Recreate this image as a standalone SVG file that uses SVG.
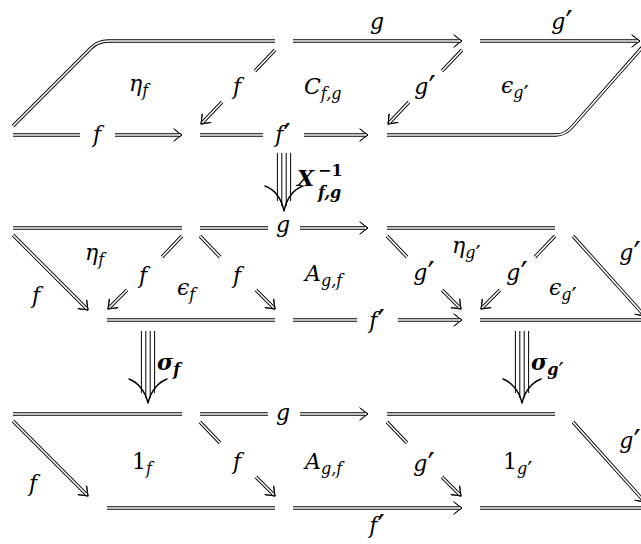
<svg xmlns="http://www.w3.org/2000/svg" xmlns:xlink="http://www.w3.org/1999/xlink" width="641" height="544" viewBox="0 0 641 544">
<style>
.t{font-family:"DejaVu Serif","Liberation Serif",serif;font-style:italic;font-size:22px;fill:#000}
.m{text-anchor:middle}
.s{font-size:16px}
.b{font-weight:bold}
.u{font-style:normal}
.p{font-style:normal;font-weight:normal;font-size:1.45em}
.shaft{stroke:#000;stroke-width:1;fill:none}
.head2{stroke:#000;stroke-width:1.4;fill:none;stroke-linecap:round}
</style>
<defs>
<marker id="h" markerUnits="userSpaceOnUse" orient="auto" refX="-3" refY="0" overflow="visible" markerWidth="1" markerHeight="1">
<path d="M-8,-6 Q-2.5,-1.5 0,0 Q-2.5,1.5 -8,6" fill="none" stroke="#000" stroke-width="0.9" stroke-linecap="round"/>
</marker>
<g id="dbl">
<path d="M13,126 L91,48 Q98,41 108,41 L275,41"/>
<path d="M293,41 L459,41" marker-end="url(#h)"/>
<path d="M480,41 L637,41" marker-end="url(#h)"/>
<path d="M13,135 L80,135 M115,135 L179,135" marker-end="url(#h)"/>
<path d="M200,135 L263,135 M304,135 L365,135" marker-end="url(#h)"/>
<path d="M387,135 L556,135 Q565,135 572,127 L646,43"/>
<path d="M275,50 L255,71 M222,102 L203,122" marker-end="url(#h)"/>
<path d="M462,50 L442,71 M409,102 L390,122" marker-end="url(#h)"/>

<path d="M13,228 L182,228"/>
<path d="M200,228 L268,228 M300,228 L365,228" marker-end="url(#h)"/>
<path d="M387,228 L555,228"/>
<path d="M107,320 L275,320"/>
<path d="M293,320 L357,320 M398,320 L459,320" marker-end="url(#h)"/>
<path d="M480,320 L641,320"/>
<path d="M13,235 L86,308" marker-end="url(#h)"/>
<path d="M182,236 L162,257 M127,290 L110,307" marker-end="url(#h)"/>
<path d="M200,236 L220,257 M256,290 L273,307" marker-end="url(#h)"/>
<path d="M387,236 L407,257 M442,290 L459,307" marker-end="url(#h)"/>
<path d="M555,236 L535,257 M500,290 L483,307" marker-end="url(#h)"/>
<path d="M573,236 L643,314" marker-end="url(#h)"/>

<path d="M13,414 L182,414"/>
<path d="M200,414 L268,414 M300,414 L365,414" marker-end="url(#h)"/>
<path d="M387,414 L555,414"/>
<path d="M107,508 L275,508"/>
<path d="M293,508 L459,508" marker-end="url(#h)"/>
<path d="M480,508 L641,508"/>
<path d="M13,421 L86,494" marker-end="url(#h)"/>
<path d="M200,422 L220,443 M256,477 L273,494" marker-end="url(#h)"/>
<path d="M387,422 L407,443 M442,477 L459,494" marker-end="url(#h)"/>
<path d="M573,422 L643,500" marker-end="url(#h)"/>
</g>
</defs>
<g id="connectors">
<use xlink:href="#dbl" href="#dbl" fill="none" stroke="#000" stroke-width="3.4"/>
<use xlink:href="#dbl" href="#dbl" fill="none" stroke="#fff" stroke-width="1.7"/>
<g id="cell-X">
<path class="shaft" d="M277.4,153 V201 M281.8,153 V206 M286.2,153 V206 M290.6,153 V201"/>
<path class="head2" d="M265,186 C273,189 281,197 284,211 M303,186 C295,189 287,197 284,211"/>
</g>
<g id="cell-sf">
<path class="shaft" d="M141.4,331 V393 M145.8,331 V398 M150.2,331 V398 M154.6,331 V393"/>
<path class="head2" d="M129,379 C137,382 145,390 148,403 M167,379 C159,382 151,390 148,403"/>
</g>
<g id="cell-sg">
<path class="shaft" d="M515.4,331 V393 M519.8,331 V398 M524.2,331 V398 M528.6,331 V393"/>
<path class="head2" d="M503,379 C511,382 519,390 522,403 M541,379 C533,382 525,390 522,403"/>
</g>
</g>
<g id="labels-top">
<text class="t m" x="377" y="29">g</text>
<text class="t m" x="562" y="29">g<tspan class="p" dy="4">′</tspan></text>
<text class="t" x="129" y="91">η<tspan class="s" dy="5">f</tspan></text>
<text class="t m" x="237" y="94">f</text>
<text class="t" x="304" y="94">C<tspan class="s" dy="5">f,g</tspan></text>
<text class="t m" x="425" y="94">g<tspan class="p" dy="4">′</tspan></text>
<text class="t" x="501" y="93">ϵ<tspan class="s" dy="5">g<tspan class="p" dy="3">′</tspan></tspan></text>
<text class="t m" x="97" y="142">f</text>
<text class="t m" x="283" y="142">f<tspan class="p" dy="4">′</tspan></text>
</g>
<g id="label-X">
<text class="t b" x="297" y="186">X</text>
<text class="t b u s" x="318" y="176">−1</text>
<text class="t b s" x="318" y="198">f,g</text>
</g>
<g id="labels-mid">
<text class="t m" x="283" y="232">g</text>
<text class="t" x="85" y="260">η<tspan class="s" dy="5">f</tspan></text>
<text class="t m" x="143" y="283">f</text>
<text class="t" x="177" y="295">ϵ<tspan class="s" dy="5">f</tspan></text>
<text class="t m" x="237" y="283">f</text>
<text class="t m" x="36" y="303">f</text>
<text class="t" x="305" y="281">A<tspan class="s" dy="5">g,f</tspan></text>
<text class="t m" x="424" y="280">g<tspan class="p" dy="4">′</tspan></text>
<text class="t" x="452" y="253">η<tspan class="s" dy="5">g<tspan class="p" dy="3">′</tspan></tspan></text>
<text class="t m" x="517" y="280">g<tspan class="p" dy="4">′</tspan></text>
<text class="t" x="549" y="295">ϵ<tspan class="s" dy="5">g<tspan class="p" dy="3">′</tspan></tspan></text>
<text class="t m" x="630" y="260">g<tspan class="p" dy="4">′</tspan></text>
<text class="t m" x="377" y="328">f<tspan class="p" dy="4">′</tspan></text>
</g>
<g id="labels-sigma">
<text class="t b" x="157" y="370">σ<tspan class="s" dy="5">f</tspan></text>
<text class="t b" x="531" y="370">σ<tspan class="s" dy="5">g<tspan class="p b" dy="3">′</tspan></tspan></text>
</g>
<g id="labels-bot">
<text class="t m" x="283" y="420">g</text>
<text class="t" x="132" y="469"><tspan class="u">1</tspan><tspan class="s" dy="5">f</tspan></text>
<text class="t m" x="237" y="469">f</text>
<text class="t" x="305" y="469">A<tspan class="s" dy="5">g,f</tspan></text>
<text class="t m" x="424" y="471">g<tspan class="p" dy="4">′</tspan></text>
<text class="t" x="503" y="469"><tspan class="u">1</tspan><tspan class="s" dy="5">g<tspan class="p" dy="3">′</tspan></tspan></text>
<text class="t m" x="630" y="448">g<tspan class="p" dy="4">′</tspan></text>
<text class="t m" x="33" y="491">f</text>
<text class="t m" x="377" y="533">f<tspan class="p" dy="4">′</tspan></text>
</g>
</svg>
